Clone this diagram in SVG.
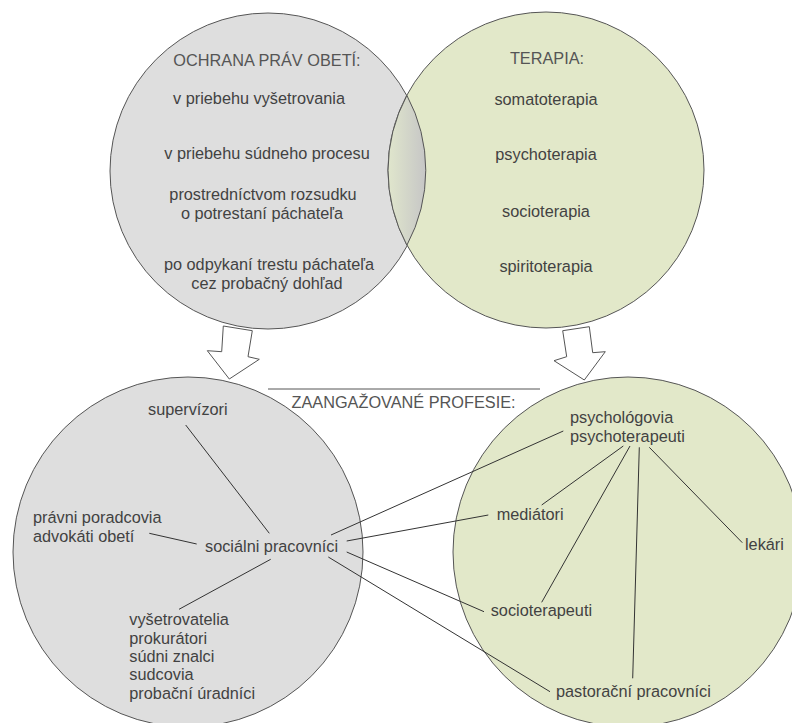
<svg xmlns="http://www.w3.org/2000/svg" width="792" height="723" viewBox="0 0 792 723">
<style>
.gray{fill:#dedede;stroke:#555;stroke-width:1}
.green{fill:#e2e8c9;stroke:#555;stroke-width:1}
.arrow{fill:#fff;stroke:#555;stroke-width:1}
.t{font-family:"Liberation Sans",Arial,sans-serif;font-size:16.3px;fill:#424242}
.h{font-family:"Liberation Sans",Arial,sans-serif;font-size:16.3px;fill:#555}
.c{text-anchor:middle}
.conn line{stroke:#333;stroke-width:1}
</style>
<defs>
<linearGradient id="lens" x1="0" y1="0" x2="1" y2="0">
<stop offset="0" stop-color="#e0e6cc"/>
<stop offset="1" stop-color="#c6c6c6"/>
</linearGradient>
</defs>
<rect width="792" height="723" fill="#fff"/>

<g id="victims-rights">
<circle class="gray" cx="268" cy="171" r="158"/>
<text class="h c" x="267" y="66">OCHRANA PRÁV OBETÍ:</text>
<text class="t c" x="259" y="104">v priebehu vyšetrovania</text>
<text class="t c" x="267" y="159">v priebehu súdneho procesu</text>
<text class="t c" x="263" y="200">prostredníctvom rozsudku</text>
<text class="t c" x="262" y="218.5">o potrestaní páchateľa</text>
<text class="t c" x="269" y="270">po odpykaní trestu páchateľa</text>
<text class="t c" x="267" y="288.5">cez probačný dohľad</text>
</g>

<g id="therapy">
<circle class="green" cx="546" cy="170" r="158"/>
<text class="h c" x="547" y="63.5">TERAPIA:</text>
<text class="t c" x="546" y="104.5">somatoterapia</text>
<text class="t c" x="546" y="160">psychoterapia</text>
<text class="t c" x="546" y="216.5">socioterapia</text>
<text class="t c" x="546" y="271.5">spiritoterapia</text>
</g>

<g id="overlap">
<path d="M406.9 95.4 A158 158 0 0 0 406.9 245.2 A158 158 0 0 0 406.9 95.4 Z" fill="url(#lens)" stroke="#555" stroke-width="1"/>
</g>

<g id="left-profession-circle">
<circle class="gray" cx="188" cy="552" r="175"/>
</g>
<g id="right-profession-circle">
<circle class="green" cx="628" cy="552" r="175"/>
</g>

<g id="arrow-left">
<polygon class="arrow" points="223.3,326 252.3,330.7 248,356.7 259.3,359.3 229.3,379 207.3,350.7 221.7,351.7"/>
</g>
<g id="arrow-right">
<polygon class="arrow" points="562.7,330.7 589.3,326.7 592.7,352.7 605.3,351.7 584.3,380 554,360.7 566.7,356.7"/>
</g>

<g id="professions-title">
<line x1="268" y1="389" x2="540" y2="389" stroke="#555" stroke-width="1"/>
<text class="h" x="291.5" y="408">ZAANGAŽOVANÉ PROFESIE:</text>
</g>

<g class="conn" id="connectors">
<line x1="185.7" y1="425" x2="269.3" y2="533.3"/>
<line x1="149.3" y1="533.3" x2="196.7" y2="544"/>
<line x1="270.7" y1="559.3" x2="179" y2="609.3"/>
<line x1="331" y1="535" x2="563.3" y2="431"/>
<line x1="346.7" y1="541" x2="488.3" y2="515"/>
<line x1="346.7" y1="552" x2="484" y2="611.7"/>
<line x1="328.3" y1="557" x2="550" y2="691.7"/>
<line x1="623.3" y1="446" x2="541.7" y2="505"/>
<line x1="630" y1="446" x2="541.7" y2="602.3"/>
<line x1="639.3" y1="447.3" x2="632.7" y2="678.3"/>
<line x1="649.3" y1="447.3" x2="742.3" y2="542.7"/>
</g>

<g id="supervizori"><text class="t" x="148" y="415">supervízori</text></g>
<g id="pravni-poradcovia">
<text class="t" x="33" y="523">právni poradcovia</text>
<text class="t" x="33" y="541.5">advokáti obetí</text>
</g>
<g id="socialni-pracovnici"><text class="t" x="205" y="551.5">sociálni pracovníci</text></g>
<g id="justice-officials">
<text class="t" x="129.3" y="625">vyšetrovatelia</text>
<text class="t" x="129.3" y="643.5">prokurátori</text>
<text class="t" x="129.3" y="662">súdni znalci</text>
<text class="t" x="129.3" y="680">sudcovia</text>
<text class="t" x="129.3" y="698.5">probační úradníci</text>
</g>
<g id="psychologovia">
<text class="t" x="570" y="423">psychológovia</text>
<text class="t" x="570" y="441.5">psychoterapeuti</text>
</g>
<g id="mediatori"><text class="t" x="496.7" y="520">mediátori</text></g>
<g id="lekari"><text class="t" x="745" y="550">lekári</text></g>
<g id="socioterapeuti"><text class="t" x="490.7" y="616">socioterapeuti</text></g>
<g id="pastoracni-pracovnici"><text class="t" x="556" y="696.5">pastorační pracovníci</text></g>
</svg>
